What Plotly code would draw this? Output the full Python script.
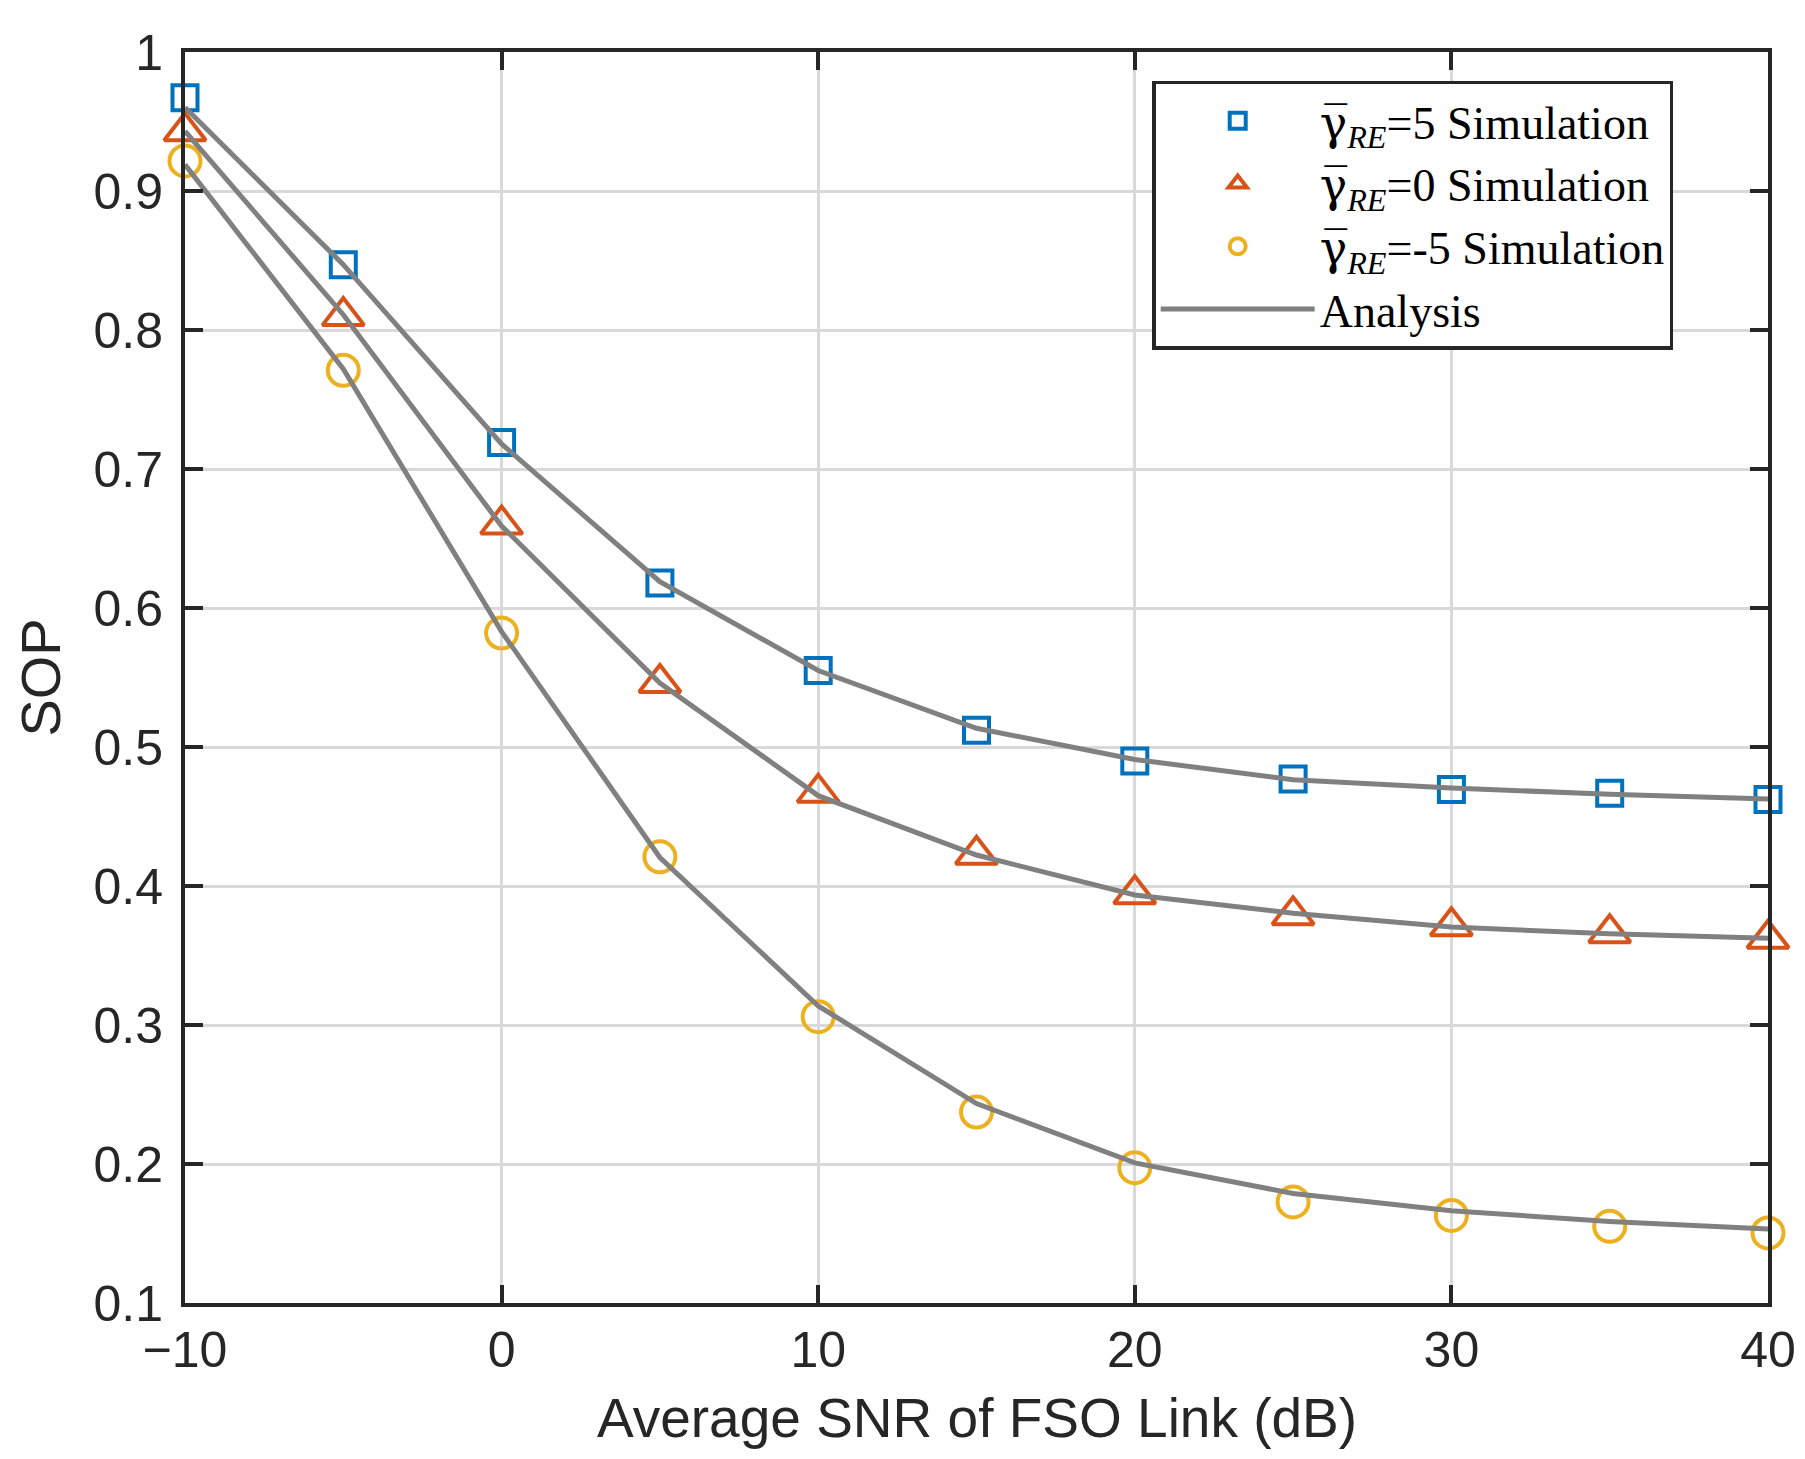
import plotly.graph_objects as go

# Average SNR of FSO link (dB)
snr = [-10, -5, 0, 5, 10, 15, 20, 25, 30, 35, 40]

# simulation points
sim_re5 = [0.967, 0.847, 0.719, 0.618, 0.555, 0.512, 0.490, 0.477, 0.4695, 0.4667, 0.4622]
sim_re0 = [0.943, 0.810, 0.660, 0.546, 0.467, 0.4225, 0.394, 0.379, 0.371, 0.366, 0.362]
sim_rem5 = [0.9216, 0.771, 0.582, 0.421, 0.306, 0.2374, 0.1973, 0.1727, 0.163, 0.1552, 0.1504]

# analytical curves
ana_re5 = [0.960, 0.847, 0.718, 0.619, 0.555, 0.5135, 0.491, 0.4765, 0.4705, 0.466, 0.4626]
ana_re0 = [0.943, 0.811, 0.659, 0.546, 0.465, 0.4223, 0.3935, 0.3804, 0.3705, 0.3656, 0.3625]
ana_rem5 = [0.919, 0.772, 0.583, 0.4205, 0.3137, 0.2435, 0.2008, 0.1788, 0.1663, 0.1587, 0.1532]

# gamma with overline, subscript RE
gam = "<span style='font-family:DejaVu Serif'>\u03b3\u0305</span><sub><i>RE</i></sub>"
labels = [gam + "=5 Simulation", gam + "=0 Simulation", gam + "=-5 Simulation"]

BLUE, ORANGE, YELLOW, GRAY = "#0072BD", "#D95319", "#EDB120", "#808080"
AXC = "#262626"

fig = go.Figure()

# markers (simulation)
for y, name, sym, size, col in [
    (sim_re5, labels[0], "square-open", 25, BLUE),
    (sim_re0, labels[1], "triangle-up-open", 36, ORANGE),
    (sim_rem5, labels[2], "circle-open", 31, YELLOW),
]:
    fig.add_trace(go.Scatter(
        x=snr, y=y, mode="markers", name=name,
        marker=dict(symbol=sym, size=size, color=col, line=dict(width=4, color=col)),
        cliponaxis=False,
    ))

# analysis curves
for i, y in enumerate([ana_re5, ana_re0, ana_rem5]):
    fig.add_trace(go.Scatter(
        x=snr, y=y, mode="lines", name="Analysis",
        line=dict(color=GRAY, width=5), showlegend=(i == 0),
    ))

fig.update_layout(
    width=1805, height=1459,
    margin=dict(l=177, r=45, t=44, b=164),
    paper_bgcolor="white", plot_bgcolor="white",
    font=dict(family="Liberation Sans, Arial, sans-serif", size=50, color=AXC),
    legend=dict(
        x=0.611, y=0.977, xanchor="left", yanchor="top",
        bgcolor="white", bordercolor=AXC, borderwidth=3.5,
        font=dict(family="Liberation Serif, Times New Roman, serif", size=46, color="black"),
        itemwidth=154, tracegroupgap=0,
    ),
    xaxis=dict(
        range=[-10, 40], tickmode="linear", tick0=-10, dtick=10,
        showgrid=True, gridcolor="#D9D9D9", gridwidth=2.5,
        zeroline=False, showline=True, linecolor=AXC, linewidth=4, mirror="ticks",
        ticks="inside", ticklen=18, tickwidth=3.5, tickcolor=AXC,
        ticklabelstandoff=0,
    ),
    yaxis=dict(
        range=[0.1, 1], tickmode="linear", tick0=0.1, dtick=0.1,
        showgrid=True, gridcolor="#D9D9D9", gridwidth=2.5,
        zeroline=False, showline=True, linecolor=AXC, linewidth=4, mirror="ticks",
        ticks="inside", ticklen=18, tickwidth=3.5, tickcolor=AXC,
        ticklabelstandoff=8,
        title=dict(text="SOP", font=dict(size=56), standoff=16),
    ),
    annotations=[dict(
        text="Average SNR of FSO Link (dB)", xref="paper", yref="paper",
        x=0.5, y=-0.092, xanchor="center", yanchor="middle", showarrow=False,
        font=dict(size=55, color=AXC),
    )],
)

fig.write_html("out.html")
